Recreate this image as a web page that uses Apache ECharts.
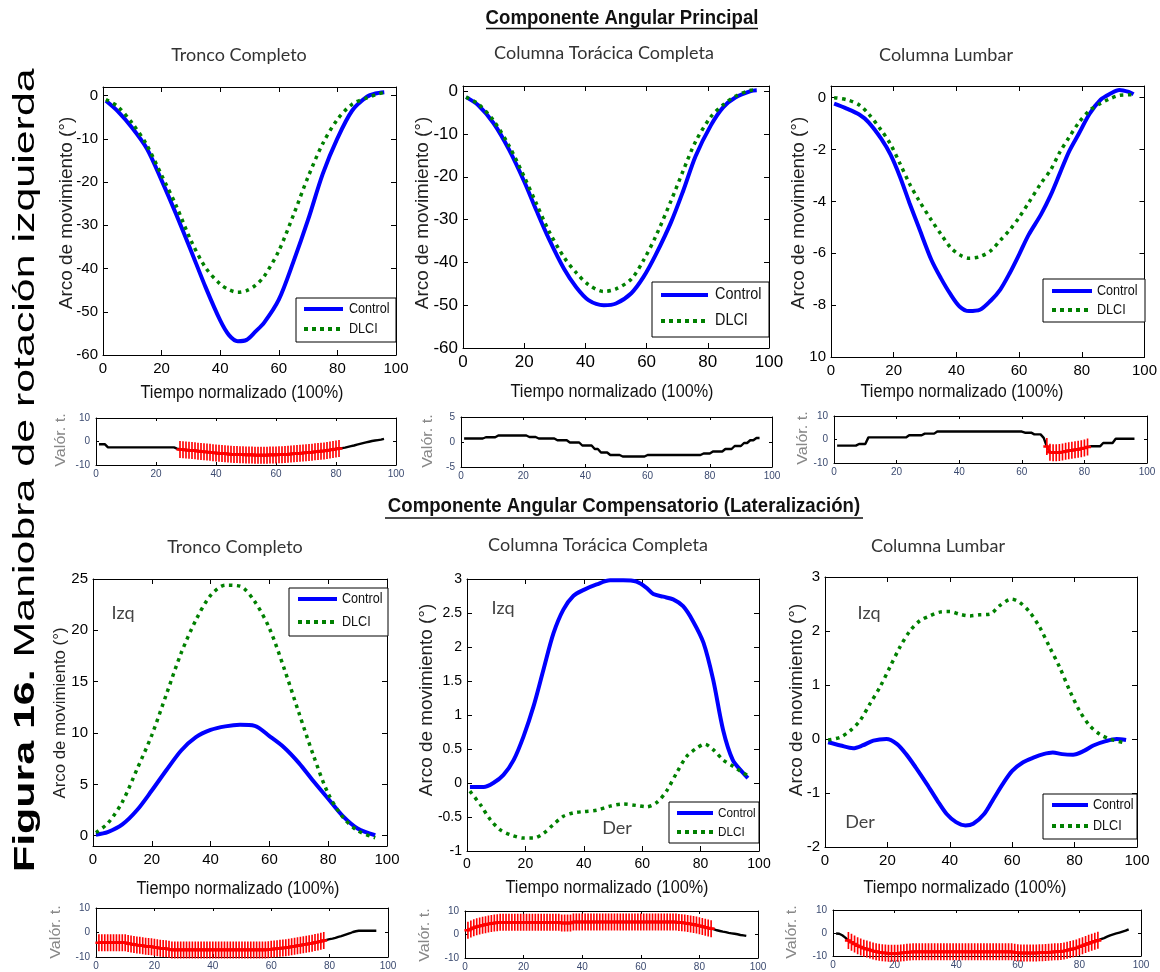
<!DOCTYPE html>
<html>
<head>
<meta charset="utf-8">
<script src="https://cdn.jsdelivr.net/npm/echarts@6/dist/echarts.min.js"></script>
<style>
  html, body { margin: 0; padding: 0; background: #fff; }
  #chart { width: 1160px; height: 972px; }
</style>
</head>
<body>
<div id="chart"></div>
<script>
// ---------------- Data ----------------
// Principal angular component (rotation), time in % of the manoeuvre
const troncoPX       = [1, 5, 10, 15, 20, 25, 30, 35, 40, 43, 46, 49, 52, 55, 60, 65, 70, 75, 80, 85, 90, 93, 96];
const troncoPControl = [-1.2, -3.6, -7.5, -12.3, -19.6, -27.5, -35.8, -44.3, -52, -55.4, -56.8, -56.5, -54.6, -52.5, -47.2, -38.4, -28.7, -18.1, -9.9, -3.5, -0.3, 0.5, 0.8];
const troncoPDLCI    = [-0.9, -2.5, -6.4, -11.5, -18.4, -25.5, -33.5, -39.8, -43.6, -44.9, -45.5, -45.1, -43.9, -41.8, -35.9, -27.6, -18.8, -11.1, -5.5, -2, -0.5, 0.2, 0.8];

const toracicaPX       = [1, 5, 10, 15, 20, 24, 28, 33, 37, 41, 46, 50, 55, 59, 63, 68, 72, 76, 81, 85, 89, 94, 96];
const toracicaPControl = [-1.4, -3.3, -7.5, -13.6, -21.1, -27.9, -34.4, -41.5, -45.8, -48.8, -50, -49.6, -47.2, -43.4, -38.2, -30.6, -23.2, -15.2, -8, -3.8, -1.5, 0, 0.2];
const toracicaPDLCI    = [-1.4, -3.0, -6.9, -12.7, -20, -26.3, -32.6, -38.8, -42.4, -45.2, -46.8, -46.2, -43.9, -39.5, -33.9, -25.6, -18.5, -11.8, -6, -3.2, -1.2, 0.2, 0.3];

const lumbarPX       = [1, 5, 9, 12, 16, 19, 22, 25, 28, 32, 35, 38, 41, 44, 47.5, 51, 54, 57, 60, 63, 67, 70, 73, 76, 79, 82.5, 86, 89, 92, 95, 96.5];
const lumbarPControl = [-0.23, -0.42, -0.65, -0.95, -1.58, -2.2, -3.05, -4.05, -5.0, -6.25, -6.95, -7.56, -8.05, -8.23, -8.18, -7.82, -7.4, -6.77, -6.05, -5.3, -4.5, -3.78, -2.92, -2.06, -1.4, -0.62, -0.08, 0.15, 0.3, 0.22, 0.13];
const lumbarPDLCI    = [0, -0.08, -0.28, -0.63, -1.25, -1.8, -2.54, -3.31, -3.95, -4.72, -5.25, -5.76, -6.06, -6.19, -6.13, -5.9, -5.5, -5.1, -4.62, -4.06, -3.3, -2.8, -2.1, -1.52, -0.97, -0.49, -0.22, -0.04, 0.09, 0.11, 0.12];

// Compensatory angular component (lateral bending)
const troncoLX       = [1, 5, 10, 15, 20, 25, 30, 35, 40, 45, 50, 55, 60, 65, 70, 75, 80, 85, 90, 96];
const troncoLControl = [0.1, 0.35, 1.1, 2.5, 4.4, 6.4, 8.3, 9.6, 10.3, 10.65, 10.8, 10.7, 9.7, 8.6, 7.1, 5.3, 3.6, 1.9, 0.7, 0.05];
const troncoLDLCI    = [0.3, 1.2, 3.3, 6.5, 9.8, 13.8, 17.8, 21.0, 23.4, 24.4, 24.3, 22.8, 20.2, 16.3, 12.0, 7.8, 4.1, 1.8, 0.5, -0.2];

const toracicaLXControl = [1, 5.7, 9, 12.5, 16, 19.4, 22.8, 26.2, 29.6, 33, 36.4, 40, 44.4, 49, 53.5, 58, 61.5, 63.8, 67.2, 70.6, 74, 77.4, 81, 84.3, 87.7, 91, 94.5, 96.2];
const toracicaLControl  = [-0.06, -0.06, 0, 0.12, 0.34, 0.69, 1.13, 1.67, 2.2, 2.55, 2.75, 2.84, 2.92, 2.98, 2.98, 2.96, 2.87, 2.78, 2.74, 2.7, 2.6, 2.38, 2.06, 1.52, 0.78, 0.34, 0.15, 0.07];
const toracicaLXDLCI    = [1, 4.6, 8, 11.4, 14.8, 19.4, 22.8, 26.2, 29.6, 33, 36.4, 40, 44.4, 49, 53.5, 58, 61.5, 64.9, 68.3, 71.8, 75.2, 78.6, 81.4, 84.3, 87.7, 91, 94.5, 96.2];
const toracicaLDLCI     = [-0.12, -0.32, -0.54, -0.69, -0.76, -0.81, -0.81, -0.74, -0.61, -0.49, -0.44, -0.42, -0.4, -0.34, -0.31, -0.33, -0.35, -0.29, -0.12, 0.15, 0.39, 0.51, 0.57, 0.49, 0.34, 0.25, 0.15, 0.11];

const lumbarLXControl = [1, 5, 9, 12, 15.5, 19.7, 23, 26, 29, 32.6, 36, 39, 42, 45, 47.5, 51, 54, 57, 60, 63.5, 67, 70, 73, 76, 79.5, 83, 86, 90, 93.5, 96.5];
const lumbarLControl  = [-0.06, -0.12, -0.17, -0.12, -0.03, 0, -0.09, -0.28, -0.52, -0.83, -1.14, -1.39, -1.54, -1.6, -1.57, -1.39, -1.11, -0.83, -0.59, -0.43, -0.34, -0.28, -0.25, -0.28, -0.29, -0.22, -0.12, -0.04, 0, -0.02];
const lumbarLXDLCI    = [1, 4.8, 8, 11.2, 14.4, 17.6, 20.8, 24, 27.2, 30.4, 33.6, 36.8, 40, 43.2, 46.4, 49.6, 52.8, 56, 59.8, 62.4, 65.6, 68.8, 72, 75.2, 78.4, 81.6, 84.8, 88, 91.2, 96.6];
const lumbarLDLCI     = [-0.02, 0.03, 0.15, 0.34, 0.65, 0.96, 1.33, 1.7, 2.0, 2.19, 2.28, 2.35, 2.36, 2.31, 2.28, 2.3, 2.31, 2.47, 2.59, 2.53, 2.35, 2.07, 1.7, 1.33, 0.9, 0.52, 0.25, 0.09, 0, -0.08];

// t statistic per sample (samples 1..96)
const tTroncoP = [
  -1.2, -1.2, -1.2,
  -2.5, -2.5, -2.5, -2.5, -2.5, -2.5, -2.5, -2.5, -2.5, -2.5,
  -2.5, -2.5, -2.5, -2.5, -2.5, -2.5, -2.5, -2.5, -2.5, -2.5,
  -2.5, -2.5, -2.5,
  -3.0,
  -3.4, -3.5, -3.6, -3.7, -3.8, -3.9, -4.1, -4.3, -4.4, -4.5,
  -4.6, -4.8, -4.9, -5.0, -5.1, -5.2, -5.3, -5.4, -5.5, -5.5,
  -5.6, -5.6, -5.7, -5.7, -5.7, -5.8, -5.8, -5.8, -5.8, -5.8,
  -5.7, -5.7, -5.7, -5.6, -5.6, -5.5, -5.4, -5.3, -5.2, -5.1,
  -5.0, -4.9, -4.8, -4.7, -4.6, -4.4, -4.3, -4.1, -4.0, -3.8,
  -3.6, -3.4, -3.2, -3.0,
  -2.8, -2.6, -2.3, -2.0, -1.7, -1.3, -1.0, -0.7, -0.4, -0.1,
  0.2, 0.4, 0.6, 0.8, 1.1
];
const tToracicaP = [
  0.7, 0.7, 0.7, 0.7, 0.7, 0.7, 0.7,
  0.95, 0.95, 0.95, 0.95,
  1.3, 1.3, 1.3, 1.3, 1.3, 1.3, 1.3, 1.3, 1.3, 1.3,
  1.0, 1.0, 1.0,
  0.7, 0.7, 0.7, 0.7, 0.7, 0.7,
  0.35, 0.35, 0.35, 0.35,
  -0.1, -0.1, -0.1, -0.1,
  -0.7, -0.7, -0.7, -0.7,
  -1.4, -1.4,
  -2.1, -2.1, -2.1,
  -2.6, -2.6, -2.6, -2.6,
  -2.9, -2.9, -2.9, -2.9, -2.9, -2.9, -2.9, -2.9,
  -2.6, -2.6, -2.6, -2.6, -2.6, -2.6, -2.6, -2.6, -2.6, -2.6,
  -2.6, -2.6, -2.6, -2.6, -2.6, -2.6, -2.6, -2.6,
  -2.3, -2.3, -2.3,
  -1.9, -1.9, -1.9, -1.9,
  -1.4, -1.4, -1.4,
  -0.8, -0.8, -0.8,
  -0.2, -0.2,
  0.35, 0.35,
  0.8, 0.8
];
const tLumbarP = [
  -2.6, -2.6, -2.6, -2.6, -2.6, -2.6, -2.6,
  -1.9, -1.9, -1.9,
  0.9, 0.9, 0.9, 0.9, 0.9, 0.9, 0.9, 0.9, 0.9, 0.9, 0.9, 0.9, 0.9,
  1.8, 1.8, 1.8, 1.8, 1.8,
  2.5, 2.5, 2.5, 2.5,
  3.4, 3.4, 3.4, 3.4, 3.4, 3.4, 3.4, 3.4, 3.4, 3.4,
  3.4, 3.4, 3.4, 3.4, 3.4, 3.4, 3.4, 3.4, 3.4, 3.4,
  3.4, 3.4, 3.4, 3.4, 3.4, 3.4, 3.4, 3.4,
  2.9, 2.9, 2.9,
  2.2, 2.2, 2.2,
  0.7, -3.0,
  -5.4, -5.6, -5.6, -5.5, -5.3, -5.0, -4.8, -4.6, -4.4, -4.2, -3.9, -3.6, -3.2,
  -2.9, -2.9, -2.9, -2.9,
  -1.5, -1.5, -1.5, -1.5,
  0.3, 0.3, 0.3, 0.3, 0.3, 0.3, 0.3
];
const tTroncoL = [
  -4.2, -4.2, -4.2, -4.2, -4.2, -4.2, -4.2, -4.2, -4.2, -4.2,
  -4.5, -4.7, -4.9, -5.1, -5.2, -5.4, -5.6, -5.7, -5.8, -6.0,
  -6.2, -6.4, -6.5, -6.6, -6.8,
  -7.1, -7.1, -7.1, -7.1, -7.1, -7.1, -7.1, -7.1, -7.1, -7.1,
  -7.1, -7.1, -7.1, -7.1, -7.1, -7.1, -7.1, -7.1, -7.1, -7.1,
  -7.1, -7.1, -7.1, -7.1, -7.1, -7.1, -7.1, -7.1, -7.1, -7.1,
  -7.1, -7.1, -7.1,
  -7.0, -6.8, -6.7, -6.6, -6.4, -6.3, -6.2, -6.0, -5.8, -5.6,
  -5.4, -5.2, -5.0, -4.8, -4.6, -4.4, -4.1, -3.9, -3.6, -3.3,
  -3.0, -2.7, -2.5, -2.2, -1.8, -1.5, -1.1, -0.7, -0.3, 0.2,
  0.5,
  0.7, 0.7, 0.7, 0.7, 0.7, 0.7, 0.7
];
const tToracicaL = [
  1.8, 2.3, 2.9, 3.3, 3.6, 3.9, 4.2, 4.5, 4.7, 4.9, 5.0,
  5.2, 5.2, 5.2, 5.2, 5.2, 5.2, 5.2, 5.2, 5.2, 5.2,
  5.2, 5.2, 5.2, 5.2, 5.2, 5.2, 5.2, 5.2, 5.2, 5.2, 5.2,
  4.9, 4.9, 4.9, 4.9,
  5.3, 5.3, 5.3, 5.3, 5.3, 5.3, 5.3, 5.3, 5.3, 5.3,
  5.3, 5.3, 5.3, 5.3, 5.3, 5.3, 5.3, 5.3, 5.3, 5.3,
  5.3, 5.3, 5.3, 5.3, 5.3, 5.3, 5.3, 5.3, 5.3, 5.3,
  5.3, 5.3, 5.3, 5.3, 5.3, 5.3,
  5.1, 5.0, 4.9, 4.7, 4.5, 4.3, 4.0, 3.7, 3.4, 3.1,
  2.8, 2.5, 2.2, 1.8, 1.5, 1.2, 1.0, 0.7, 0.5, 0.3,
  0.1, -0.2, -0.4, -0.6
];
const tLumbarL = [
  -0.2, -0.3, -1.0, -2.0, -3.3, -4.0, -4.8, -5.5, -6.1, -6.6,
  -7.0, -7.4, -7.8, -8.1, -8.4, -8.6, -8.7, -8.8, -8.8, -8.8,
  -8.8, -8.7, -8.6, -8.4, -8.3,
  -8.2, -8.2, -8.2, -8.2, -8.2, -8.2, -8.2, -8.2, -8.2, -8.2,
  -8.2, -8.2, -8.2, -8.2, -8.2, -8.2, -8.2, -8.2, -8.2, -8.2,
  -8.2, -8.2, -8.2, -8.2, -8.2, -8.2, -8.2, -8.2, -8.2, -8.2,
  -8.2, -8.2, -8.2,
  -8.4, -8.6, -8.7, -8.7, -8.7, -8.7, -8.7, -8.7, -8.6, -8.6,
  -8.5, -8.4, -8.3, -8.2, -8.1, -8.0, -7.8, -7.5, -7.2, -6.9,
  -6.5, -6.0, -5.5, -5.0, -4.5, -4.0, -3.6, -3.2, -2.7, -2.2,
  -1.6, -1.0, -0.6, -0.2, 0.2, 0.6, 1.0, 1.6
];

// Samples where the difference is significant (drawn in red)
const sigTroncoP   = [28, 81];
const sigLumbarP   = [68, 81];
const sigTroncoL   = [1, 78];
const sigToracicaL = [1, 84];
const sigLumbarL   = [5, 86];

// Tick values / labels
const xTicks        = [0, 20, 40, 60, 80, 100];
const yTicksTroncoP   = [-60, -50, -40, -30, -20, -10, 0];
const yTicksToracicaP = [-60, -50, -40, -30, -20, -10, 0];
const yTicksLumbarP   = [-10, -8, -6, -4, -2, 0];
const yLabelsLumbarP  = ['10', '-8', '-6', '-4', '-2', '0'];
const yTicksTroncoL   = [0, 5, 10, 15, 20, 25];
const yTicksToracicaL = [-1, -0.5, 0, 0.5, 1, 1.5, 2, 2.5, 3];
const yTicksLumbarL   = [-2, -1, 0, 1, 2, 3];
const tTicks10 = [-10, 0, 10];
const tTicks5  = [-5, 0, 5];

// ---------------- Layout & style ----------------
const SANS   = '"Liberation Sans", Arial, sans-serif';
const NARROW = '"Liberation Sans Narrow", "Liberation Sans", Arial, sans-serif';
const TITLE  = 'Lato, "Open Sans", sans-serif';
const BLUE = '#0000ff';
const GREEN = '#008000';

const mainPanels = [
  { box: [103, 87, 293, 268], x: troncoPX, c: troncoPControl, d: troncoPDLCI, yMin: -60, yMax: 2, yTicks: yTicksTroncoP, fs: 15 },
  { box: [463, 86, 306, 262], x: toracicaPX, c: toracicaPControl, d: toracicaPDLCI, yMin: -60, yMax: 1.2, yTicks: yTicksToracicaP, fs: 17 },
  { box: [831, 86, 314, 271], x: lumbarPX, c: lumbarPControl, d: lumbarPDLCI, yMin: -10, yMax: 0.45, yTicks: yTicksLumbarP, yLabels: yLabelsLumbarP, fs: 15 },
  { box: [93, 579, 294, 267], x: troncoLX, c: troncoLControl, d: troncoLDLCI, yMin: -1, yMax: 25, yTicks: yTicksTroncoL, fs: 15 },
  { box: [467, 579, 292, 272], x: toracicaLXControl, xd: toracicaLXDLCI, c: toracicaLControl, d: toracicaLDLCI, yMin: -1, yMax: 3, yTicks: yTicksToracicaL, fs: 14 },
  { box: [825, 577, 312, 270], x: lumbarLXControl, xd: lumbarLXDLCI, c: lumbarLControl, d: lumbarLDLCI, yMin: -2, yMax: 3, yTicks: yTicksLumbarL, fs: 15 }
];

const tPanels = [
  { box: [96, 418, 300, 47], t: tTroncoP, sig: sigTroncoP, yMin: -10, yMax: 10, yTicks: tTicks10 },
  { box: [461, 417, 311, 50], t: tToracicaP, sig: null, yMin: -5, yMax: 5, yTicks: tTicks5 },
  { box: [834, 416, 313, 47], t: tLumbarP, sig: sigLumbarP, yMin: -10, yMax: 10, yTicks: tTicks10 },
  { box: [96, 908, 292, 49], t: tTroncoL, sig: sigTroncoL, yMin: -10, yMax: 10, yTicks: tTicks10 },
  { box: [465, 911, 293, 49], t: tToracicaL, sig: sigToracicaL, yMin: -10, yMax: 10, yTicks: tTicks10 },
  { box: [833, 910, 308, 46], t: tLumbarL, sig: sigLumbarL, yMin: -10, yMax: 10, yTicks: tTicks10 }
];

function valueAxis(gridIndex, position, min, max, ticks, label, tickLen, names) {
  const step = ticks[1] - ticks[0];
  const axis = {
    type: 'value', gridIndex, position, min, max,
    axisLine: { show: true, onZero: false, lineStyle: { color: '#000', width: 1 } },
    axisTick: { show: true, inside: true, length: tickLen, lineStyle: { color: '#000', width: 1 }, customValues: ticks },
    splitLine: { show: false },
    axisLabel: { show: false }
  };
  if (Math.abs(min / step - Math.round(min / step)) < 1e-9) axis.interval = step;
  if (label) {
    axis.axisLabel = Object.assign({
      show: true,
      customValues: ticks,
      formatter: v => {
        const k = ticks.findIndex(t => Math.abs(t - v) < 1e-9);
        return k < 0 ? '' : (names ? names[k] : String(v));
      }
    }, label);
  }
  return axis;
}

const grids = [], xAxes = [], yAxes = [], series = [];

function addPanel(box, yMin, yMax, yTicks, yNames, xLabel, yLabel, tickLen) {
  const gi = grids.length;
  grids.push({ left: box[0], top: box[1], width: box[2], height: box[3], show: false });
  xAxes.push(valueAxis(gi, 'bottom', 0, 100, xTicks, xLabel, tickLen));
  xAxes.push(valueAxis(gi, 'top', 0, 100, xTicks, null, tickLen));
  yAxes.push(valueAxis(gi, 'left', yMin, yMax, yTicks, yLabel, tickLen, yNames));
  yAxes.push(valueAxis(gi, 'right', yMin, yMax, yTicks, null, tickLen));
  return 2 * gi;
}

mainPanels.forEach(p => {
  const lab = { fontSize: p.fs, fontFamily: NARROW, color: '#000' };
  const ai = addPanel(p.box, p.yMin, p.yMax, p.yTicks, p.yLabels,
    Object.assign({ margin: 6 }, lab), Object.assign({ margin: 5 }, lab), 5);
  series.push({
    name: 'Control', type: 'line', xAxisIndex: ai, yAxisIndex: ai,
    data: p.x.map((v, k) => [v, p.c[k]]),
    showSymbol: false, symbol: 'none', smooth: 0.3, silent: true, z: 3,
    lineStyle: { color: BLUE, width: 4 }
  });
  const xd = p.xd || p.x;
  series.push({
    name: 'DLCI', type: 'line', xAxisIndex: ai, yAxisIndex: ai,
    data: xd.map((v, k) => [v, p.d[k]]),
    showSymbol: false, symbol: 'none', smooth: 0.3, silent: true, z: 4,
    lineStyle: { color: GREEN, width: 3.5, type: [3.5, 4.5], cap: 'butt' }
  });
});

// '+' marker, stretched vertically
const PLUS = 'path://M2.3,0H3.7V16H2.3ZM0,6.8H6V9.2H0Z';
tPanels.forEach(p => {
  const lab = { fontSize: 10, fontFamily: SANS, color: '#3b4a70' };
  const ai = addPanel(p.box, p.yMin, p.yMax, p.yTicks, null,
    Object.assign({ margin: 4 }, lab), Object.assign({ margin: 6 }, lab), 3);
  const pts = p.t.map((v, k) => [k + 1, v]);
  series.push({
    type: 'line', xAxisIndex: ai, yAxisIndex: ai, data: pts,
    showSymbol: false, symbol: 'none', silent: true, z: 3,
    lineStyle: { color: '#000', width: 2.4 }
  });
  if (p.sig) {
    series.push({
      type: 'line', xAxisIndex: ai, yAxisIndex: ai,
      data: pts.filter(d => d[0] >= p.sig[0] && d[0] <= p.sig[1]),
      symbol: PLUS, symbolSize: [7, 17], showSymbol: true, showAllSymbol: true,
      clip: false, silent: true, z: 4,
      itemStyle: { color: '#ff0000' },
      lineStyle: { color: '#ff0000', width: 2.6 }
    });
  }
});

// ---------------- Texts & legends ----------------
function txt(text, x, y, o) {
  return {
    type: 'text', x, y, rotation: o.rot || 0, scaleX: o.sx || 1, z: 50, silent: true,
    style: {
      text, fontSize: o.fs, fontFamily: o.ff || SANS, fontWeight: o.fw || 'normal',
      fill: o.color || '#000', align: o.align || 'center', verticalAlign: 'middle',
      rich: o.rich
    }
  };
}
function hline(x1, x2, y, w, color, dash) {
  return { type: 'line', z: 101, silent: true, shape: { x1, y1: y, x2, y2: y },
           style: { stroke: color, lineWidth: w, lineDash: dash || null } };
}

const headings = [
  { text: 'Componente Angular Principal', cx: 622, cy: 18, x0: 486, x1: 758, uy: 28.5 },
  { text: 'Componente Angular Compensatorio (Lateralización)', cx: 624, cy: 506.5, x0: 385, x1: 863, uy: 518 }
];
const subTitles = [
  ['Tronco Completo', 239, 55], ['Columna Torácica Completa', 604, 53], ['Columna Lumbar', 946, 55],
  ['Tronco Completo', 235, 547], ['Columna Torácica Completa', 598, 545], ['Columna Lumbar', 938, 546]
];
const xNames = [[242, 393], [612, 392], [962, 392], [238, 889], [607, 888], [965, 888]];
const yNames = [[67, 213, 18], [423, 213, 18], [799, 213, 18], [61, 713, 16], [427, 700, 18], [797, 700, 18]];
const tNames = [[61, 440], [428, 441], [803, 438], [56, 932], [425, 935], [792, 932]];
const sideNotes = [['Izq', 123, 613], ['Izq', 503, 608], ['Der', 617, 828], ['Izq', 869, 613], ['Der', 860, 822]];
const legends = [
  { box: [296, 298, 396, 342], lx: [304, 343], yc: 309, yd: 329, tx: 349, fs: 14 },
  { box: [652, 282, 769, 337], lx: [661, 708], yc: 295, yd: 321, tx: 715, fs: 16 },
  { box: [1043, 279, 1145, 322], lx: [1052, 1092], yc: 291, yd: 310, tx: 1097, fs: 14 },
  { box: [289, 588, 388, 636], lx: [298, 337], yc: 599, yd: 622, tx: 342, fs: 14 },
  { box: [669, 802, 759, 843], lx: [677, 713], yc: 813, yd: 832, tx: 718, fs: 13 },
  { box: [1043, 794, 1137, 839], lx: [1052, 1088], yc: 805, yd: 826, tx: 1093, fs: 14 }
];

const elements = [];
headings.forEach(h => {
  elements.push(txt(h.text, h.cx, h.cy, { fs: 20, fw: 'bold', sx: 0.93, color: '#111' }));
  elements.push(hline(h.x0, h.x1, h.uy, 1.4, '#111'));
});
subTitles.forEach(s => elements.push(txt(s[0], s[1], s[2], { fs: 18, ff: TITLE, color: '#333' })));
xNames.forEach(n => elements.push(txt('Tiempo normalizado (100%)', n[0], n[1], { fs: 18, sx: 0.9, color: '#111' })));
yNames.forEach(n => elements.push(txt('Arco de movimiento (°)', n[0], n[1], { fs: n[2], sx: 1.05, rot: Math.PI / 2, color: '#222' })));
tNames.forEach(n => elements.push(txt('Valór. t.', n[0], n[1], { fs: 14, sx: 1.15, rot: Math.PI / 2, color: '#888' })));
sideNotes.forEach(n => elements.push(txt(n[0], n[1], n[2], { fs: 18, ff: TITLE, color: '#444' })));
legends.forEach(l => {
  elements.push({ type: 'rect', z: 100, silent: true,
    shape: { x: l.box[0], y: l.box[1], width: l.box[2] - l.box[0], height: l.box[3] - l.box[1] },
    style: { fill: '#fff', stroke: '#000', lineWidth: 1 } });
  elements.push(hline(l.lx[0], l.lx[1], l.yc, 4, BLUE));
  elements.push(hline(l.lx[0], l.lx[1], l.yd, 4, GREEN, [4, 4]));
  const t1 = txt('Control', l.tx, l.yc, { fs: l.fs, sx: 0.9, align: 'left', color: '#111' });
  const t2 = txt('DLCI', l.tx, l.yd, { fs: l.fs, sx: 0.9, align: 'left', color: '#111' });
  t1.z = t2.z = 102;
  elements.push(t1, t2);
});
// Figure caption, running up the left margin
elements.push(txt('{b|Figura 16.} Maniobra de rotación izquierda', 26, 872, {
  fs: 30, sx: 1.43, rot: Math.PI / 2, align: 'left', color: '#000',
  rich: { b: { fontWeight: 'bold', fontSize: 30, fontFamily: SANS, fill: '#000' } }
}));

const chart = echarts.init(document.getElementById('chart'), null, { renderer: 'canvas' });
chart.setOption({
  animation: false,
  backgroundColor: '#fff',
  grid: grids,
  xAxis: xAxes,
  yAxis: yAxes,
  series,
  graphic: { elements }
});
</script>
</body>
</html>
